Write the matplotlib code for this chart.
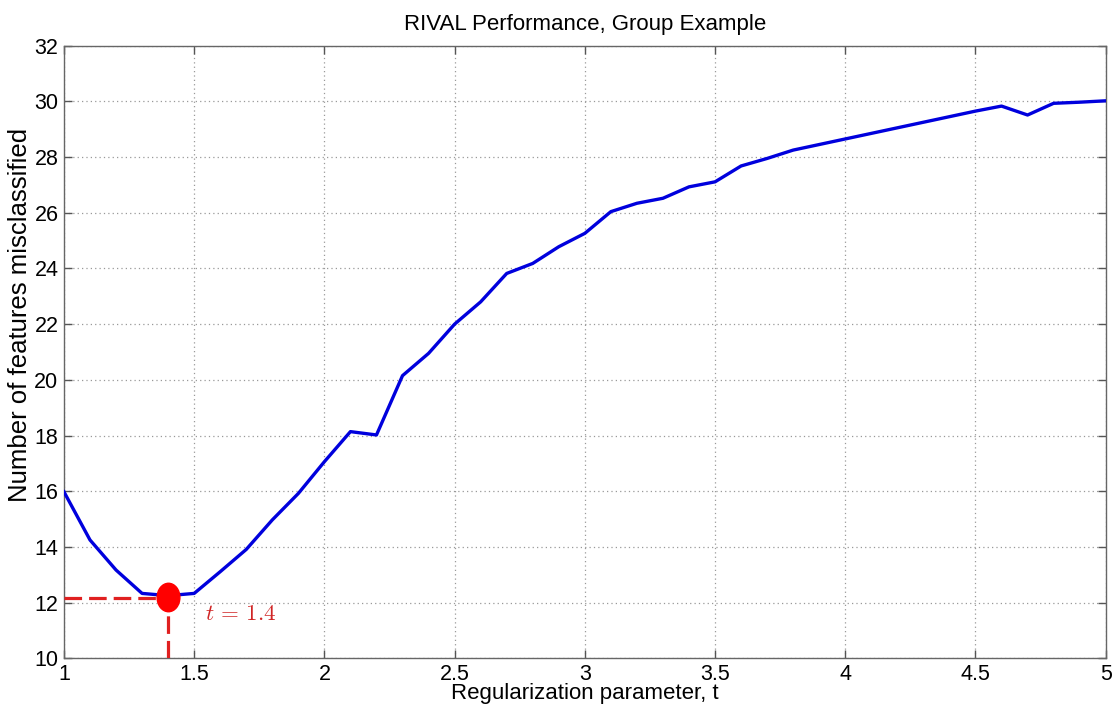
import numpy as np
import matplotlib
matplotlib.use("Agg")
import matplotlib.pyplot as plt
from matplotlib.path import Path
from matplotlib.transforms import Affine2D

plt.rcParams['font.family'] = ['Liberation Sans', 'DejaVu Sans']
plt.rcParams['mathtext.fontset'] = 'cm'

# Regularization parameter sweep and misclassification counts
t_vals = np.round(np.arange(1.0, 5.01, 0.1), 1)
n_miscl = [15.98, 14.25, 13.17, 12.33, 12.25, 12.33, 13.11, 13.91, 14.97, 15.92,
           17.06, 18.14, 18.02, 20.15, 20.95, 22.0, 22.8, 23.82, 24.18, 24.78,
           25.26, 26.04, 26.34, 26.52, 26.93, 27.11, 27.68, 27.95, 28.25, 28.45,
           28.65, 28.85, 29.05, 29.25, 29.45, 29.65, 29.83, 29.51, 29.93, 29.97,
           30.02]

t_best = 1.4
e_best = 12.2
e_guide = 12.15

fig = plt.figure(figsize=(11.18, 7.08), dpi=100)
ax = fig.add_axes([0.0572, 0.0702, 0.9318, 0.8653])

ax.plot(t_vals, n_miscl, color='#0000dd', linewidth=2.4, zorder=3)

# guide lines to the optimum
ax.plot([1.0, t_best], [e_guide, e_guide], color='#e02020', linestyle='--',
        linewidth=2.3, dashes=(5.5, 2.2), zorder=4)
ax.plot([t_best, t_best], [10, e_guide], color='#e02020', linestyle='--',
        linewidth=2.3, dashes=(5.5, 2.2), zorder=4)

# slightly tall ellipse marker
ell = Path.unit_circle().transformed(Affine2D().scale(0.8, 1.0))
ax.plot([t_best], [e_best], marker=ell, markersize=20.5, color='#ff0000',
        markeredgecolor='#ff0000', linestyle='none', zorder=5)
ax.text(t_best + 0.14, e_best - 0.6, r'$t\,=\,1.4$', color='#d02525',
        fontsize=16.5, va='center', ha='left')

ax.set_xlim(1, 5)
ax.set_ylim(10, 32)
ax.set_xticks(np.arange(1, 5.01, 0.5))
ax.set_xticklabels(['1', '1.5', '2', '2.5', '3', '3.5', '4', '4.5', '5'])
ax.set_yticks(np.arange(10, 33, 2))

ax.grid(True, linestyle=(0, (1, 2.5)), color='#999999', linewidth=0.9)
ax.tick_params(direction='in', top=True, right=True, labelsize=15.5,
               length=6, width=1, color='#555555', pad=4)
for s in ax.spines.values():
    s.set_color('#666666')
    s.set_linewidth(1)

ax.set_xlabel('Regularization parameter, t', fontsize=16, labelpad=-1)
ax.set_ylabel('Number of features misclassified', fontsize=18.5, labelpad=-1)
ax.yaxis.set_label_coords(-0.031, 0.56)
ax.set_title('RIVAL Performance, Group Example', fontsize=16, pad=11)

fig.savefig('out.png', dpi=100)
